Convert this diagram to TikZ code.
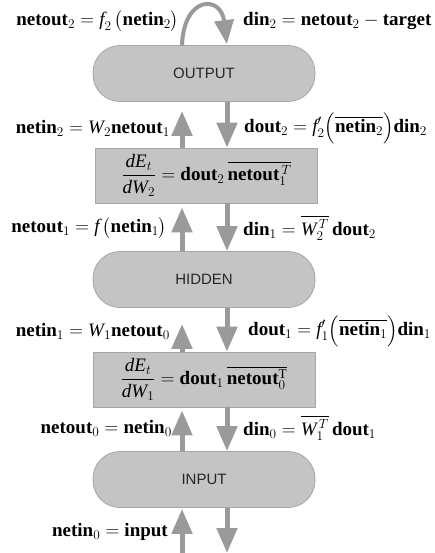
\RequirePackage{fix-cm}
\documentclass[tikz,border=0pt]{standalone}
\usepackage{amsmath}
\usepackage{fontspec}
\setmainfont{Liberation Serif}
\newfontfamily\sansf{Liberation Sans}
\usetikzlibrary{arrows.meta}
\definecolor{nodefill}{HTML}{C4C4C4}
\definecolor{nodedraw}{HTML}{A6A6A6}
\definecolor{arrowc}{HTML}{9A9A9A}
\tikzset{
  pill/.style={draw=nodedraw, fill=nodefill, line width=0.8pt, rounded corners=27pt,
    minimum width=222pt, minimum height=56pt, inner sep=0pt,
    font=\sansf\fontsize{15}{18}\selectfont, text=black!85},
  wbox/.style={draw=nodedraw, fill=nodefill, line width=0.8pt,
    minimum width=222pt, minimum height=55pt, inner sep=0pt,
    font=\fontsize{19}{22}\selectfont},
  flow/.style={draw=arrowc, line width=5pt, -{Triangle[width=20pt,length=25pt]}},
  loopflow/.style={draw=arrowc, line width=4pt, -{Triangle[width=19pt,length=24pt]}},
  lbl/.style={font=\fontsize{19}{22}\selectfont, inner sep=0pt}
}
\begin{document}
\begin{tikzpicture}[x=1pt,y=-1pt]
\useasboundingbox (0,0) rectangle (435,553);
\coordinate (U) at (182,0);
\coordinate (D) at (227,0);
\coordinate (botU) at (182,553);
\coordinate (botD) at (227,553);

\node[pill] (out) at (204,73.5) {OUTPUT};
\node[wbox] (box1) at (206.5,175.5) {$\dfrac{\textit{dE}_t}{\textit{dW}_2} = \textbf{dout}_2\,\overline{\textbf{netout}_1^{\,T}}$};
\node[pill] (hid) at (204,279.5) {HIDDEN};
\node[wbox] (box2) at (204,379.5) {$\dfrac{\textit{dE}_t}{\textit{dW}_1} = \textbf{dout}_1\,\overline{\textbf{netout}_0^{\mathrm{T}}}$};
\node[pill] (inp) at (204,479.5) {INPUT};

% loop on output
\draw[loopflow,shorten >=1pt] (U |- out.north) .. controls +(2,-50) and +(-6,-50) .. (D |- out.north);

% up arrows
\draw[flow,shorten >=9pt] (U |- box1.north) -- (U |- out.south);
\draw[flow,shorten >=4pt] (U |- hid.north) -- (U |- box1.south);
\draw[flow,shorten >=16pt] (U |- box2.north) -- (U |- hid.south);
\draw[flow,shorten >=3pt] (U |- inp.north) -- (U |- box2.south);
\draw[flow,shorten >=1pt] (botU) -- (U |- inp.south);

% down arrows
\draw[flow] (D |- out.south) -- (D |- box1.north);
\draw[flow] (D |- box1.south) -- (D |- hid.north);
\draw[flow] (D |- hid.south) -- (D |- box2.north);
\draw[flow] (D |- box2.south) -- (D |- inp.north);
\draw[flow] (D |- inp.south) -- (botD);

% labels
\node[lbl,anchor=east] (l1) at (179,21) {$\textbf{netout}_2 = \textit{f}_2\,\bigl(\textbf{netin}_2\bigr)$};
\node[lbl,anchor=west] (l2) at (243,21) {$\textbf{din}_2 = \textbf{netout}_2 - \textbf{target}$};
\node[lbl,anchor=east] (l3) at (170,128) {$\textbf{netin}_2 = \textit{W}_2\textbf{netout}_1$};
\node[lbl,anchor=west] (l4) at (244,128) {$\textbf{dout}_2 = \textit{f}_2'\Bigl(\overline{\textbf{netin}_2}\Bigr)\textbf{din}_2$};
\node[lbl,anchor=east] (l5) at (167,228) {$\textbf{netout}_1 = \textit{f}\,\bigl(\textbf{netin}_1\bigr)$};
\node[lbl,anchor=west] (l6) at (243,228) {$\textbf{din}_1 = \overline{\textit{W}_2^{\,T}}\,\textbf{dout}_2$};
\node[lbl,anchor=east] (l7) at (170,331) {$\textbf{netin}_1 = \textit{W}_1\textbf{netout}_0$};
\node[lbl,anchor=west] (l8) at (248,331) {$\textbf{dout}_1 = \textit{f}_1'\Bigl(\overline{\textbf{netin}_1}\Bigr)\textbf{din}_1$};
\node[lbl,anchor=east] (l9) at (172,428) {$\textbf{netout}_0 = \textbf{netin}_0$};
\node[lbl,anchor=west] (l10) at (243,428) {$\textbf{din}_0 = \overline{\textit{W}_1^{\,T}}\,\textbf{dout}_1$};
\node[lbl,anchor=east] (l11) at (168,532) {$\textbf{netin}_0 = \textbf{input}$};
\end{tikzpicture}
\end{document}
